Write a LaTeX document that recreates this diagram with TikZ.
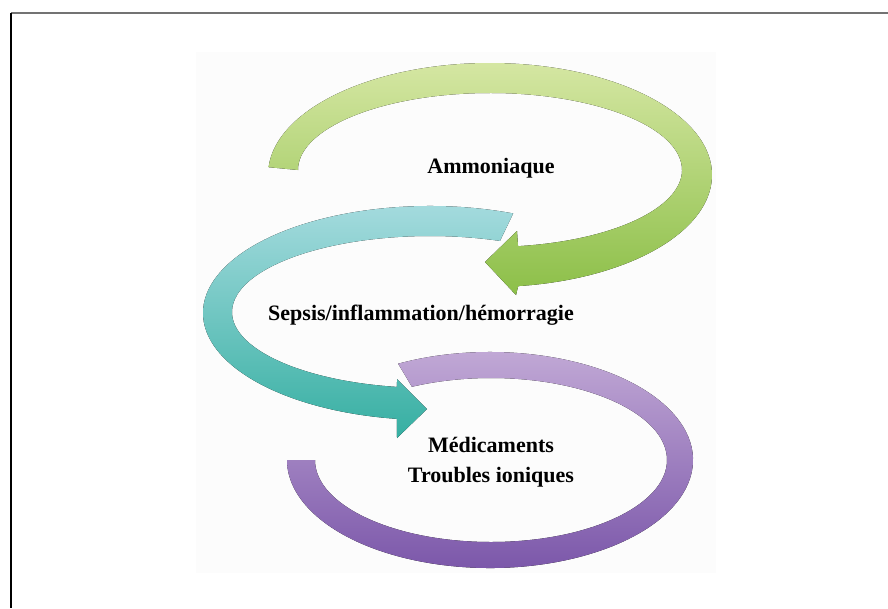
\documentclass[tikz,border=0pt]{standalone}
\usepackage{fontspec}
\setmainfont{Liberation Serif}
\definecolor{greenlight}{HTML}{D6E7A4}
\definecolor{greendark}{HTML}{8CBF48}
\definecolor{teallight}{HTML}{AADDE1}
\definecolor{tealdark}{HTML}{36AFA2}
\definecolor{purplelight}{HTML}{C5ADD8}
\definecolor{purpledark}{HTML}{7752A7}

\begin{document}
\begin{tikzpicture}[x=1pt,y=-1pt,
	lbl/.style={font=\fontsize{22}{30}\selectfont\bfseries, align=center, inner sep=0pt}]
\useasboundingbox (0,0) rectangle (888,608);
% frame
\draw[line width=1.6pt, black!55] (11,13) -- (888,13);
\draw[line width=1.4pt] (11,13) -- (11,608);
\fill[black!1] (196,52) rectangle (716,573);

% green arrow
\fill[top color=greenlight, bottom color=greendark]
	([shift={(490,175)}]184:222 and 112) arc[start angle=184, end angle=442.7, x radius=222, y radius=112]
	-- (516,295) -- (485,262) -- (517,231) --
	([shift={(490,170)}]441.6:192 and 77) arc[start angle=441.6, end angle=180, x radius=192, y radius=77]
	-- cycle;

% teal arrow
\fill[top color=teallight, bottom color=tealdark]
	([shift={(430,313)}]291.5:227 and 107) arc[start angle=291.5, end angle=98.4, x radius=227, y radius=107]
	-- (397,438) -- (427,409) -- (397,379) --
	([shift={(430,312)}]99.6:198 and 76) arc[start angle=99.6, end angle=290.7, x radius=198, y radius=76]
	-- cycle;

% purple arrow
\fill[top color=purplelight, bottom color=purpledark]
	([shift={(490,460)}]243.1:203 and 108) arc[start angle=243.1, end angle=540, x radius=203, y radius=108]
	-- ([shift={(491,460)}]540:176 and 82) arc[start angle=540, end angle=243.3, x radius=176, y radius=82]
	-- cycle;

\node[lbl] (ammo) at (491,168) {Ammoniaque};
\node[lbl] (sepsis) at (421,315) {Sepsis/inflammation/hémorragie};
\node[lbl] (medic) at (491,462) {Médicaments\\Troubles ioniques};
\end{tikzpicture}
\end{document}
